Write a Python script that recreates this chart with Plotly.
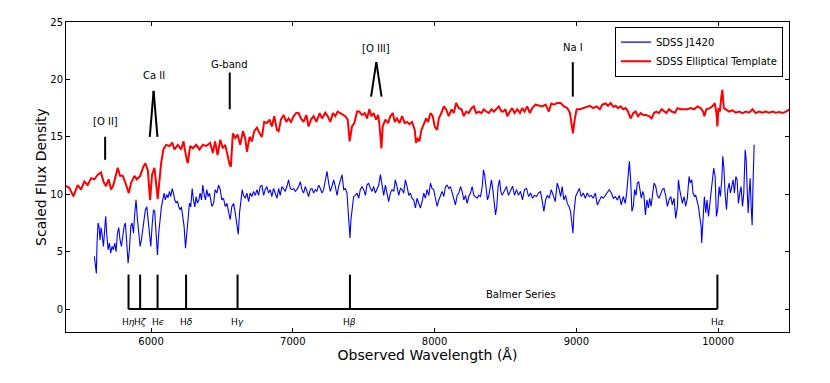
import plotly.graph_objects as go

# SDSS J1420 spectrum
j1420_wave = [5600, 5607, 5614, 5619, 5626, 5633, 5640, 5647, 5654, 5664, 5673, 5680, 5687, 5697, 5706, 5715,
              5725, 5734, 5744, 5753, 5763, 5772, 5781, 5791, 5800, 5810, 5819, 5828, 5838, 5847, 5857, 5866,
              5876, 5885, 5894, 5904, 5913, 5923, 5932, 5941, 5951, 5960, 5970, 5979, 5989, 5998, 6007, 6017,
              6026, 6036, 6045, 6054, 6064, 6073, 6083, 6092, 6101, 6111, 6120, 6130, 6139, 6149, 6158, 6167,
              6177, 6186, 6196, 6205, 6214, 6224, 6233, 6243, 6252, 6262, 6271, 6280, 6290, 6299, 6309, 6318,
              6327, 6337, 6346, 6356, 6365, 6375, 6384, 6393, 6403, 6412, 6429, 6441, 6452, 6464, 6476, 6488,
              6499, 6511, 6523, 6535, 6546, 6558, 6570, 6582, 6594, 6605, 6615, 6624, 6634, 6643, 6652, 6664,
              6676, 6688, 6699, 6711, 6723, 6735, 6747, 6758, 6770, 6782, 6794, 6805, 6817, 6829, 6841, 6852,
              6864, 6876, 6888, 6900, 6911, 6923, 6935, 6947, 6958, 6970, 6982, 6994, 7006, 7017, 7029, 7041,
              7053, 7064, 7076, 7088, 7100, 7111, 7123, 7135, 7147, 7159, 7170, 7182, 7194, 7206, 7217, 7229,
              7241, 7253, 7264, 7276, 7288, 7300, 7312, 7323, 7335, 7347, 7359, 7370, 7382, 7389, 7396, 7403,
              7410, 7420, 7429, 7441, 7453, 7465, 7476, 7488, 7500, 7512, 7523, 7535, 7547, 7559, 7570, 7582,
              7594, 7606, 7618, 7629, 7641, 7653, 7665, 7676, 7688, 7700, 7712, 7723, 7735, 7747, 7759, 7771,
              7782, 7794, 7806, 7818, 7829, 7841, 7853, 7865, 7876, 7888, 7900, 7912, 7924, 7935, 7947, 7959,
              7971, 7982, 7994, 8006, 8018, 8030, 8041, 8053, 8065, 8077, 8088, 8100, 8112, 8124, 8135, 8147,
              8159, 8171, 8183, 8194, 8206, 8218, 8230, 8241, 8253, 8265, 8277, 8288, 8300, 8312, 8324, 8336,
              8345, 8354, 8364, 8373, 8383, 8392, 8401, 8411, 8420, 8430, 8439, 8448, 8458, 8467, 8477, 8493,
              8507, 8521, 8536, 8550, 8564, 8578, 8592, 8606, 8620, 8634, 8649, 8663, 8677, 8691, 8705, 8719,
              8733, 8747, 8762, 8771, 8783, 8795, 8809, 8823, 8837, 8851, 8865, 8877, 8889, 8900, 8912, 8924,
              8936, 8948, 8959, 8969, 8976, 8983, 8995, 9006, 9021, 9035, 9049, 9063, 9077, 9091, 9105, 9119,
              9134, 9148, 9162, 9176, 9190, 9204, 9218, 9232, 9247, 9261, 9275, 9289, 9303, 9317, 9331, 9345,
              9355, 9364, 9374, 9383, 9392, 9402, 9411, 9421, 9430, 9440, 9449, 9458, 9468, 9477, 9487, 9498,
              9508, 9517, 9527, 9536, 9548, 9560, 9571, 9583, 9595, 9607, 9618, 9630, 9642, 9654, 9666, 9677,
              9689, 9701, 9713, 9720, 9729, 9739, 9748, 9760, 9771, 9783, 9795, 9804, 9814, 9823, 9833, 9842,
              9854, 9861, 9870, 9880, 9884, 9894, 9903, 9913, 9922, 9932, 9941, 9950, 9960, 9969, 9979, 9988,
              9997, 10007, 10016, 10026, 10033, 10040, 10049, 10059, 10068, 10078, 10087, 10096, 10106, 10115,
              10125, 10134, 10143, 10153, 10162, 10172, 10181, 10191, 10198, 10205, 10212, 10219, 10226, 10233,
              10240, 10247, 10254]
j1420_flux = [4.6, 4.0, 3.1, 5.75, 7.5, 7.2, 6.0, 7.1, 6.6, 5.45, 6.9, 8.07, 6.6, 5.17, 5.75, 4.87,
              5.45, 5.17, 5.75, 5.0, 6.6, 7.1, 6.04, 5.45, 6.3, 7.2, 7.5, 6.04, 4.0, 5.17, 7.2, 7.5,
              6.6, 8.36, 9.52, 7.8, 6.3, 5.45, 6.04, 6.9, 7.8, 8.65, 8.9, 7.8, 6.04, 5.45, 7.2, 8.65,
              8.5, 6.6, 4.7, 6.6, 8.07, 8.9, 9.5, 10.1, 9.5, 9.97, 9.7, 10.25, 9.8, 10.5, 10.1, 9.5,
              9.23, 9.4, 8.9, 8.65, 8.9, 8.2, 7.2, 5.3, 6.6, 8.36, 9.23, 8.9, 10.5, 9.5, 8.9, 9.8,
              9.23, 9.5, 10.1, 9.5, 10.8, 9.97, 9.5, 10.4, 9.8, 10.1, 8.94, 9.2, 10.4, 10.1, 10.8, 10.4,
              9.5, 9.65, 8.94, 9.2, 8.65, 7.78, 8.94, 9.2, 8.36, 7.2, 6.5, 8.36, 9.8, 10.4, 9.9, 9.65,
              10.1, 9.36, 10.1, 9.8, 10.25, 9.9, 10.4, 9.9, 10.67, 10.8, 9.9, 10.4, 10.67, 10.1, 10.4, 9.8,
              10.5, 10.1, 9.65, 10.5, 9.9, 10.67, 10.4, 10.25, 10.67, 11.26, 10.5, 10.4, 10.5, 10.25, 10.4, 10.67,
              11.1, 10.4, 10.1, 10.67, 10.25, 9.8, 10.4, 10.5, 10.1, 10.4, 10.25, 10.8, 10.5, 10.1, 10.4, 11.26,
              11.99, 10.97, 10.25, 10.67, 11.26, 10.67, 9.9, 10.67, 11.26, 11.7, 10.4, 10.5, 10.1, 8.94, 7.78, 6.2,
              7.78, 9.2, 9.8, 9.9, 10.1, 9.65, 10.4, 10.67, 10.4, 9.9, 10.8, 10.97, 10.5, 10.25, 10.67, 10.1,
              10.4, 10.8, 11.7, 10.67, 9.9, 10.8, 10.1, 9.36, 10.1, 10.4, 10.25, 11.26, 10.67, 9.9, 10.5, 10.4,
              10.1, 11.26, 10.67, 9.9, 10.1, 9.65, 9.5, 8.8, 9.65, 9.2, 8.8, 9.36, 10.1, 9.65, 10.4, 9.9,
              10.97, 10.5, 10.4, 9.65, 8.94, 9.5, 9.9, 10.25, 9.8, 10.67, 10.8, 10.5, 10.67, 10.1, 9.65, 9.07,
              9.9, 10.1, 10.67, 10.25, 9.5, 9.9, 9.2, 9.8, 10.1, 10.67, 9.9, 9.8, 9.65, 9.9, 9.8, 10.67,
              12.13, 11.6, 10.1, 9.5, 9.9, 10.8, 11.26, 10.4, 9.2, 8.2, 8.94, 10.67, 11.26, 10.25, 9.9, 10.4,
              10.67, 9.9, 10.25, 10.7, 9.9, 10.4, 9.9, 10.25, 9.5, 10.4, 10.5, 9.8, 10.1, 9.65, 9.9, 9.8,
              10.1, 10.25, 9.2, 8.5, 9.5, 9.9, 9.65, 10.4, 9.9, 9.36, 10.97, 10.5, 9.8, 10.67, 9.5, 9.9,
              9.2, 8.94, 8.5, 7.2, 6.6, 8.36, 9.8, 10.1, 10.5, 9.8, 10.1, 9.65, 10.1, 9.8, 9.9, 9.65,
              10.1, 9.07, 9.5, 9.8, 9.65, 9.9, 10.1, 10.4, 10.1, 9.65, 9.8, 9.5, 9.9, 9.07, 9.8, 9.2,
              10.1, 11.26, 12.86, 11.26, 8.5, 8.94, 10.4, 9.9, 10.97, 11.1, 10.4, 9.65, 10.25, 9.9, 8.2, 9.5,
              8.8, 9.65, 8.94, 10.1, 10.97, 10.67, 9.9, 9.65, 10.1, 10.4, 10.5, 9.9, 8.94, 9.5, 9.8, 9.07,
              9.65, 7.9, 8.94, 11.26, 10.4, 9.65, 9.2, 9.8, 8.94, 9.65, 11.55, 10.97, 11.26, 10.1, 9.8, 9.9,
              9.36, 8.94, 8.07, 7.2, 5.75, 7.78, 9.8, 8.36, 9.5, 8.07, 9.2, 10.1, 11.7, 12.28, 11.55, 8.07,
              8.65, 10.67, 9.8, 11.26, 13.3, 12.4, 10.1, 8.65, 10.4, 10.97, 10.1, 10.67, 11.26, 10.1,
              11.55, 11.26, 9.2, 10.1, 10.67, 8.94, 10.1, 13.87, 13.0, 10.4, 8.36, 10.1, 11.4, 8.94,
              7.3, 11.26, 14.3]

# SDSS elliptical template
template_wave = [5400, 5424, 5452, 5482, 5506, 5529, 5553, 5577, 5600, 5624, 5647, 5664, 5682, 5701, 5718, 5734,
                 5753, 5765, 5781, 5800, 5819, 5843, 5859, 5883, 5899, 5923, 5946, 5960, 5977, 5993, 6007, 6024,
                 6047, 6071, 6087, 6106, 6130, 6149, 6165, 6189, 6212, 6229, 6247, 6259, 6276, 6295, 6318, 6342,
                 6365, 6389, 6417, 6436, 6452, 6469, 6488, 6506, 6523, 6539, 6554, 6563, 6577, 6594, 6610, 6629,
                 6648, 6664, 6676, 6695, 6711, 6728, 6747, 6765, 6782, 6798, 6817, 6836, 6852, 6869, 6888, 6900,
                 6916, 6935, 6954, 6970, 6987, 7006, 7024, 7041, 7057, 7076, 7095, 7111, 7128, 7147, 7166, 7189,
                 7206, 7229, 7246, 7264, 7283, 7300, 7316, 7335, 7354, 7370, 7387, 7401, 7417, 7434, 7453, 7469,
                 7488, 7507, 7523, 7540, 7554, 7570, 7587, 7601, 7610, 7625, 7634, 7653, 7672, 7688, 7705, 7719,
                 7735, 7752, 7771, 7789, 7806, 7822, 7841, 7860, 7869, 7879, 7893, 7907, 7924, 7940, 7954, 7971,
                 7987, 8001, 8018, 8030, 8048, 8065, 8081, 8100, 8119, 8135, 8152, 8171, 8190, 8206, 8223, 8241,
                 8260, 8277, 8293, 8312, 8331, 8347, 8364, 8383, 8401, 8418, 8434, 8453, 8472, 8484, 8500, 8512,
                 8531, 8547, 8564, 8583, 8602, 8618, 8634, 8653, 8672, 8689, 8712, 8736, 8759, 8783, 8806, 8823,
                 8842, 8865, 8889, 8912, 8936, 8955, 8966, 8976, 8988, 9002, 9025, 9049, 9072, 9096, 9119, 9143,
                 9166, 9183, 9207, 9223, 9242, 9261, 9277, 9294, 9312, 9331, 9348, 9364, 9383, 9402, 9418, 9435,
                 9454, 9472, 9489, 9513, 9531, 9548, 9564, 9583, 9602, 9618, 9635, 9654, 9673, 9696, 9713, 9736,
                 9760, 9783, 9807, 9830, 9854, 9877, 9894, 9903, 9917, 9941, 9960, 9976, 9988, 9995, 10002, 10012,
                 10023, 10030, 10040, 10054, 10078, 10101, 10125, 10148, 10172, 10195, 10219, 10242, 10266, 10289,
                 10313, 10336, 10360, 10384, 10407, 10431, 10454, 10478, 10506]
template_flux = [10.74, 10.54, 9.81, 10.8, 10.4, 11.1, 10.8, 11.4, 11.3, 11.7, 11.9, 11.1, 10.7, 11.3, 10.4, 10.8,
                 11.7, 12.3, 11.6, 11.6, 11.0, 10.1, 11.0, 11.6, 11.3, 11.6, 12.4, 12.7, 12.1, 9.5, 11.7, 12.3,
                 9.6, 12.7, 13.9, 14.3, 14.2, 14.5, 13.9, 14.3, 13.9, 14.6, 13.3, 12.7, 14.2, 14.0, 14.3, 13.9,
                 14.3, 14.2, 14.46, 13.6, 14.6, 13.4, 14.75, 14.0, 14.3, 13.4, 12.6, 12.4, 15.3, 14.9, 15.2, 14.3,
                 15.5, 14.9, 13.7, 15.0, 14.6, 15.5, 15.8, 15.3, 15.0, 16.3, 16.2, 16.5, 15.9, 16.8, 15.6, 15.5,
                 16.5, 16.9, 16.3, 16.6, 16.3, 16.8, 17.07, 17.07, 16.6, 16.3, 16.9, 15.9, 16.5, 16.8, 16.3, 17.07,
                 16.6, 17.1, 16.8, 16.3, 17.07, 16.8, 17.2, 17.07, 16.9, 16.8, 16.5, 14.6, 15.9, 16.2, 17.2, 17.2,
                 16.9, 17.07, 16.6, 17.4, 16.8, 17.07, 16.5, 16.9, 16.2, 14.0, 15.9, 16.5, 16.2, 16.8, 17.07, 16.3,
                 16.6, 16.2, 16.8, 16.2, 16.3, 16.1, 16.3, 15.6, 14.46, 14.9, 14.6, 15.6, 16.1, 16.6, 16.3, 17.07,
                 16.8, 15.9, 15.6, 16.6, 17.07, 17.65, 17.4, 16.8, 17.4, 17.07, 17.94, 17.5, 17.4, 16.8, 17.2, 17.07,
                 17.5, 17.65, 17.07, 17.2, 17.07, 17.4, 17.2, 17.07, 17.4, 17.2, 17.4, 17.65, 17.2, 17.2, 17.4, 16.8,
                 17.2, 17.5, 17.07, 17.4, 17.07, 17.5, 17.2, 17.65, 17.07, 17.5, 17.8, 17.7, 17.65, 17.8, 17.2, 17.9,
                 17.8, 17.94, 17.94, 17.65, 17.5, 17.07, 15.9, 15.3, 16.5, 17.4, 17.4, 17.5, 17.65, 17.7, 17.5, 17.65,
                 17.4, 17.8, 17.9, 17.7, 17.94, 17.6, 17.7, 17.5, 17.65, 17.4, 17.5, 17.2, 16.6, 17.07, 17.2, 16.8,
                 17.07, 16.9, 16.9, 16.8, 16.6, 17.07, 17.2, 17.07, 17.4, 17.2, 17.07, 17.4, 17.2, 17.1, 17.5, 17.4,
                 17.4, 17.4, 17.5, 17.4, 17.65, 17.5, 17.2, 16.8, 17.4, 17.5, 17.65, 17.94, 17.07, 15.9, 17.5, 17.2,
                 18.5, 19.1, 17.5, 17.4, 17.2, 17.3, 17.1, 17.2, 17.07, 17.2, 17.1, 17.4, 17.07, 17.2,
                 17.1, 17.2, 17.1, 17.2, 17.1, 17.15, 17.07, 17.2, 17.4]

# Balmer series (observed wavelengths)
balmer_wave = [5841, 5923, 6046, 6247, 6610, 7403, 9995]
balmer_names = ['H<i>η</i>', 'H<i>ζ</i>', 'H<i>ϵ</i>', 'H<i>δ</i>', 'H<i>γ</i>', 'H<i>β</i>', 'H<i>α</i>']
balmer_top = 3.0

# single absorption features
single_names = ['[O II]', 'G-band', 'Na I']
single_wave = [5676, 6555, 8975]
single_lo = [13.0, 17.4, 18.5]
single_hi = [15.0, 20.6, 21.5]
single_label_y = [16.3, 21.3, 22.8]

# doublets drawn as inverted V
doublet_names = ['Ca II', '[O III]']
doublet_blue = [5991, 7552]
doublet_red = [6045, 7626]
doublet_base = [15.0, 18.5]
doublet_apex = [19.0, 21.5]
doublet_label_y = [20.3, 22.7]

FONT = 'DejaVu Sans'

fig = go.Figure()
fig.add_trace(go.Scatter(x=j1420_wave, y=j1420_flux, mode='lines', name='SDSS J1420',
                         line=dict(color='#0000ff', width=1.1)))
fig.add_trace(go.Scatter(x=template_wave, y=template_flux, mode='lines', name='SDSS Elliptical Template',
                         line=dict(color='#ff0000', width=2)))

blk = dict(color='black', width=2)
shapes = []
for w in balmer_wave:
    shapes.append(dict(type='line', xref='x', yref='y', x0=w, x1=w, y0=0, y1=balmer_top, line=blk))
shapes.append(dict(type='line', xref='x', yref='y', x0=balmer_wave[0], x1=balmer_wave[-1], y0=0, y1=0, line=blk))
for w, lo, hi in zip(single_wave, single_lo, single_hi):
    shapes.append(dict(type='line', xref='x', yref='y', x0=w, x1=w, y0=lo, y1=hi, line=blk))
for b, r, base, apex in zip(doublet_blue, doublet_red, doublet_base, doublet_apex):
    mid = (b + r) / 2
    shapes.append(dict(type='line', xref='x', yref='y', x0=b, x1=mid, y0=base, y1=apex, line=blk))
    shapes.append(dict(type='line', xref='x', yref='y', x0=mid, x1=r, y0=apex, y1=base, line=blk))
fig.update_layout(shapes=shapes)

for w, name in zip(balmer_wave, balmer_names):
    fig.add_annotation(x=w, y=-1.1, text=name, showarrow=False, font=dict(size=9, family=FONT, color='black'))
fig.add_annotation(x=8606, y=1.3, text='Balmer Series', showarrow=False,
                   font=dict(size=10, family=FONT, color='black'))
for w, name, ly in zip(single_wave, single_names, single_label_y):
    fig.add_annotation(x=w, y=ly, text=name, showarrow=False, font=dict(size=10, family=FONT, color='black'))
for b, r, name, ly in zip(doublet_blue, doublet_red, doublet_names, doublet_label_y):
    fig.add_annotation(x=(b + r) / 2, y=ly, text=name, showarrow=False,
                       font=dict(size=10, family=FONT, color='black'))

axis_style = dict(showgrid=False, zeroline=False, showline=True, linecolor='black', linewidth=1,
                  mirror='ticks', ticks='inside', ticklen=4, tickcolor='black', automargin=False,
                  tickfont=dict(size=10, family=FONT, color='black'))
fig.update_xaxes(range=[5400, 10500], tick0=0, dtick=1000, tickformat='d',
                 title=dict(text='Observed Wavelength (Å)', standoff=3,
                            font=dict(size=14, family=FONT, color='black')),
                 **axis_style)
fig.update_yaxes(range=[-2, 25], tick0=0, dtick=5, tickformat='d',
                 title=dict(text='Scaled Flux Density', standoff=0,
                            font=dict(size=14, family=FONT, color='black')),
                 **axis_style)

# the page body adds an 8px offset, so the figure is drawn 8px smaller
fig.update_layout(
    width=822, height=375,
    margin=dict(l=58, r=41, t=14, b=51),
    plot_bgcolor='white', paper_bgcolor='white',
    font=dict(family=FONT, color='black'),
    legend=dict(x=0.9917, y=0.985, xanchor='right', yanchor='top', bgcolor='white',
                bordercolor='black', borderwidth=1, font=dict(size=10, family=FONT, color='black'),
                itemwidth=30, tracegroupgap=0),
)

fig.write_html("out.html")
